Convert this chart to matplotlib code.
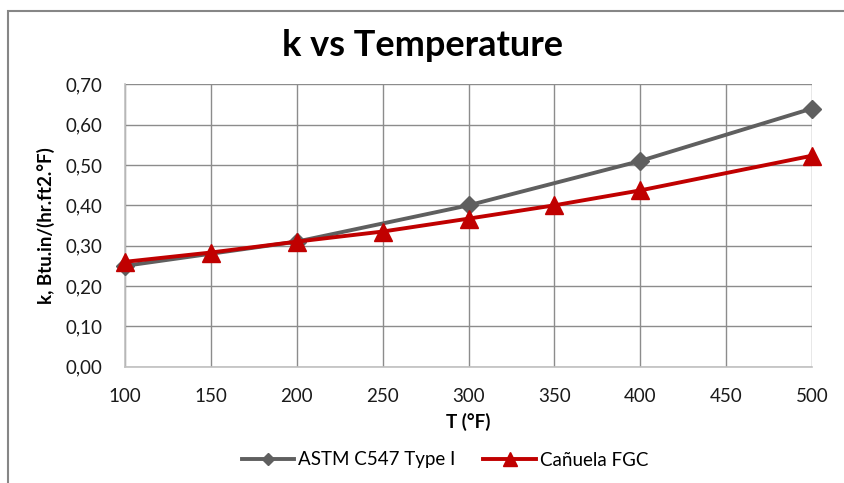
import matplotlib
matplotlib.use("Agg")
import matplotlib.pyplot as plt
from matplotlib.lines import Line2D
from matplotlib.patches import Rectangle
from matplotlib.ticker import FuncFormatter, MultipleLocator

# ── Data ────────────────────────────────────────────────────────────────────
astm_T = [100, 200, 300, 400, 500]
astm_k = [0.25, 0.31, 0.40, 0.51, 0.64]

canuela_T = [100, 150, 200, 250, 300, 350, 400, 500]
canuela_k = [0.26, 0.283, 0.31, 0.335, 0.367, 0.40, 0.437, 0.523]

x_ticks = [100, 150, 200, 250, 300, 350, 400, 450, 500]

GRAY = "#5f5f5f"
RED = "#c00000"
GRID = "#8c8c8c"

plt.rcParams["font.family"] = ["Lato", "DejaVu Sans"]

fig = plt.figure(figsize=(8.44, 4.83), dpi=100)
ax = fig.add_axes([125 / 844, 1 - 366.7 / 483, (812 - 125) / 844, (366.7 - 84.3) / 483])

ax.plot(astm_T, astm_k, color=GRAY, lw=2.8, marker="D", ms=9.5,
        zorder=3, clip_on=False)
ax.plot(canuela_T, canuela_k, color=RED, lw=2.8, marker="^", ms=13.5,
        zorder=4, clip_on=False)

ax.set_xlim(100, 500)
ax.set_ylim(0, 0.70)
ax.set_xticks(x_ticks)
ax.yaxis.set_major_locator(MultipleLocator(0.10))
ax.yaxis.set_major_formatter(FuncFormatter(lambda v, p: f"{v:.2f}".replace(".", ",")))

ax.grid(True, color=GRID, lw=1.0)
ax.set_axisbelow(True)
for side in ["top", "right"]:
    ax.spines[side].set_visible(False)
for side in ["left", "bottom"]:
    ax.spines[side].set_color("#c0c0c0")
    ax.spines[side].set_linewidth(1.2)
ax.tick_params(length=0, labelsize=13.5, colors="#1a1a1a")
ax.tick_params(axis="y", pad=16)
ax.tick_params(axis="x", pad=15)

ax.set_xlabel("T (°F)", fontsize=13.5, fontweight="bold", labelpad=6)
ax.set_ylabel("k, Btu.in/(hr.ft2.°F)", fontsize=13.5, fontweight="bold", labelpad=8)

fig.text(0.5, 1 - 45 / 483, "k vs Temperature", ha="center", va="center",
         fontsize=26, fontweight="bold")

handles = [
    Line2D([], [], color=GRAY, lw=2.8, marker="D", ms=6),
    Line2D([], [], color=RED, lw=2.8, marker="^", ms=10),
]
fig.legend(handles, ["ASTM C547 Type I", "Cañuela FGC"], loc="center",
           bbox_to_anchor=(0.527, 1 - 460 / 483), ncol=2, frameon=False,
           fontsize=13.5, handlelength=2.8, columnspacing=1.5, handletextpad=0.2)

# chart frame (cropped on the right and bottom in the reference)
fig.patches.append(Rectangle((8 / 844, -0.1), 1.2, (483 - 11) / 483 + 0.1,
                             transform=fig.transFigure, fill=False,
                             edgecolor="#868686", lw=1.5))

fig.savefig("out.png", dpi=100)
